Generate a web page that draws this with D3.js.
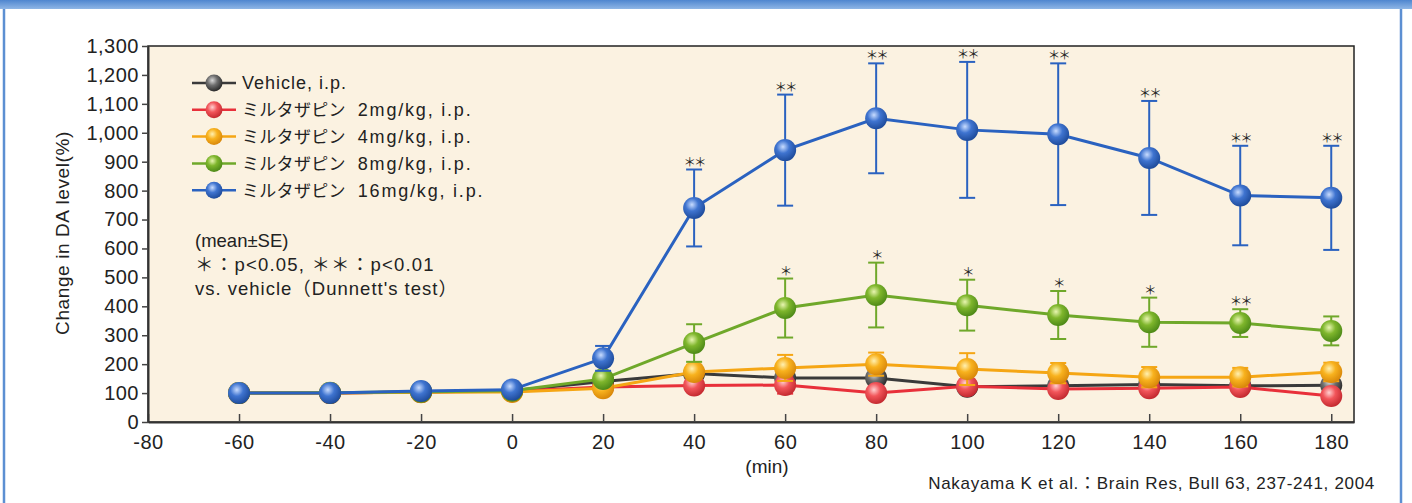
<!DOCTYPE html>
<html>
<head>
<meta charset="utf-8">
<script src="https://cdn.jsdelivr.net/npm/d3@7"></script>
<style>
  html, body { margin: 0; padding: 0; background: #fff; }
  svg { display: block; }
  text { font-family: "Liberation Sans", "Noto Sans CJK JP", sans-serif; fill: #222; }
</style>
</head>
<body>
<svg width="1412" height="503"></svg>
<script>
// 時間 (min)
const times = [-60, -40, -20, 0, 20, 40, 60, 80, 100, 120, 140, 160, 180];

// 平均値と SE
const vehicle   = [100, 100, 104, 108, 140, 168, 152, 152, 122, 125, 130, 125, 127];
const vehicleSE = [5, 5, 5, 5, 10, 15, 15, 15, 12, 12, 12, 12, 12];
const mirt2     = [100, 100, 104, 106, 121, 126, 128, 100, 124, 114, 117, 121, 90];
const mirt2SE   = [5, 5, 5, 5, 10, 20, 30, 15, 15, 15, 15, 15, 15];
const mirt4     = [100, 100, 103, 104, 117, 173, 187, 200, 183, 169, 155, 155, 173];
const mirt4SE   = [5, 5, 5, 5, 10, 25, 45, 40, 55, 35, 35, 32, 32];
const mirt8     = [100, 101, 105, 108, 149, 273, 394, 439, 404, 370, 345, 342, 315];
const mirt8SE   = [5, 5, 5, 6, 12, 65, 102, 112, 88, 83, 85, 48, 50];
const mirt16    = [100, 100, 107, 112, 220, 740, 940, 1050, 1010, 995, 913, 783, 775];
const mirt16SE  = [5, 5, 6, 8, 43, 133, 192, 190, 235, 245, 197, 172, 180];

// 有意差マーク
const sig8  = ["", "", "", "", "", "", "*", "*", "*", "*", "*", "**", ""];
const sig16 = ["", "", "", "", "", "**", "**", "**", "**", "**", "**", "**", "**"];

const legendLabels = ["Vehicle, i.p.", "ミルタザピン 2mg/kg, i.p.", "ミルタザピン 4mg/kg, i.p.",
                      "ミルタザピン 8mg/kg, i.p.", "ミルタザピン 16mg/kg, i.p."];
const xTicks = d3.range(-80, 181, 20);
const yTicks = d3.range(0, 1301, 100);

const series = [
  { id: "veh", mean: vehicle, se: vehicleSE, sig: null,  line: "#3a3a3a", base: "#6f6f6f", hi: "#d8d8d8", dark: "#2a2a2a" },
  { id: "m2",  mean: mirt2,   se: mirt2SE,   sig: null,  line: "#e8303a", base: "#f2555a", hi: "#ffd0d0", dark: "#c42a30" },
  { id: "m4",  mean: mirt4,   se: mirt4SE,   sig: null,  line: "#f5a614", base: "#f8b21e", hi: "#fff0b0", dark: "#d9880a" },
  { id: "m8",  mean: mirt8,   se: mirt8SE,   sig: sig8,  line: "#6fa82a", base: "#7fb62c", hi: "#e8f5b0", dark: "#4e8a18" },
  { id: "m16", mean: mirt16,  se: mirt16SE,  sig: sig16, line: "#2a62c0", base: "#3f74d0", hi: "#c8dcff", dark: "#1f4c9c" }
];

const svg = d3.select("svg");
const W = 1412, H = 503;
const plotL = 148, plotR = 1354, plotT = 46, plotB = 422;

// 外枠
svg.append("rect").attr("x", 4).attr("y", -4).attr("width", 1397).attr("height", H + 10)
  .attr("fill", "#fff").attr("stroke", "#5c8fd2").attr("stroke-width", 2.5);
const band = svg.append("defs").append("linearGradient").attr("id", "band")
  .attr("x1", 0).attr("y1", 0).attr("x2", 0).attr("y2", 1);
band.append("stop").attr("offset", "0%").attr("stop-color", "#4f86cf");
band.append("stop").attr("offset", "100%").attr("stop-color", "#8fb6e6");
svg.append("rect").attr("x", 0).attr("y", 0).attr("width", W).attr("height", 9).attr("fill", "url(#band)");

const x = d3.scaleLinear().domain([-80, 185]).range([plotL, plotR]);
const y = d3.scaleLinear().domain([0, 1300]).range([plotB, plotT]);

const defs = svg.append("defs");
series.forEach(s => {
  const g = defs.append("radialGradient").attr("id", "grad-" + s.id)
    .attr("cx", "40%").attr("cy", "35%").attr("r", "65%");
  g.append("stop").attr("offset", "0%").attr("stop-color", s.hi);
  g.append("stop").attr("offset", "45%").attr("stop-color", s.base);
  g.append("stop").attr("offset", "100%").attr("stop-color", s.dark);
});

// プロット領域
svg.append("rect").attr("x", plotL).attr("y", plotT).attr("width", plotR - plotL).attr("height", plotB - plotT)
  .attr("fill", "#fbf2e1").attr("stroke", "#222").attr("stroke-width", 1.5);

// 軸
const xAxis = svg.append("g").attr("transform", `translate(0,${plotB})`)
  .call(d3.axisBottom(x).tickValues(xTicks).tickSizeInner(-8).tickSizeOuter(0).tickPadding(13)
    .tickFormat(d => String(d)));
const yAxis = svg.append("g").attr("transform", `translate(${plotL},0)`)
  .call(d3.axisLeft(y).tickValues(yTicks).tickSizeInner(6).tickSizeOuter(0).tickPadding(3)
    .tickFormat(d3.format(",")));
[xAxis, yAxis].forEach(a => {
  a.select(".domain").attr("stroke", "#333").attr("stroke-width", 2);
  a.selectAll(".tick line").attr("stroke", "#444").attr("stroke-width", 1.5);
  a.selectAll(".tick text").attr("fill", "#222").style("font-size", "20px")
    .style("font-family", "Liberation Sans, sans-serif").style("letter-spacing", "0.5px");
});
xAxis.selectAll(".tick text").attr("dy", "0.71em");
yAxis.selectAll(".tick text").attr("dy", "0.32em");

// 系列
series.forEach(s => {
  const g = svg.append("g");
  const pts = times.map((t, i) => ({ t, v: s.mean[i], e: s.se[i], sig: s.sig ? s.sig[i] : "" }));
  const bars = pts.filter(p => p.t > 0);
  g.selectAll(".eb").data(bars).enter().append("line")
    .attr("x1", d => x(d.t)).attr("x2", d => x(d.t))
    .attr("y1", d => y(d.v - d.e)).attr("y2", d => y(d.v + d.e))
    .attr("stroke", s.line).attr("stroke-width", 2);
  g.selectAll(".cap").data(bars.flatMap(d => [d.v - d.e, d.v + d.e].map(v => ({ t: d.t, v }))))
    .enter().append("line")
    .attr("x1", d => x(d.t) - 8).attr("x2", d => x(d.t) + 8)
    .attr("y1", d => y(d.v)).attr("y2", d => y(d.v))
    .attr("stroke", s.line).attr("stroke-width", 2);
  g.append("path").datum(pts)
    .attr("d", d3.line().x(d => x(d.t)).y(d => y(d.v)))
    .attr("fill", "none").attr("stroke", s.line).attr("stroke-width", 3);
  g.selectAll("circle").data(pts).enter().append("circle")
    .attr("cx", d => x(d.t)).attr("cy", d => y(d.v)).attr("r", 11)
    .attr("fill", `url(#grad-${s.id})`);
  g.selectAll(".sig").data(pts.filter(p => p.sig)).enter().append("text")
    .attr("x", d => x(d.t)).attr("y", d => y(d.v + d.e) - 3)
    .attr("text-anchor", "middle").style("font-size", "12.5px").attr("fill", "#444")
    .style("font-family", "Noto Sans CJK JP, sans-serif").style("letter-spacing", "-2px")
    .text(d => d.sig.replace(/\*/g, "＊"));
});

// 凡例
const lg = svg.append("g").attr("transform", "translate(192,83)");
series.forEach((s, i) => {
  const row = lg.append("g").attr("transform", `translate(0,${i * 26.8})`);
  row.append("line").attr("x1", 0).attr("x2", 44).attr("stroke", s.line).attr("stroke-width", 2.5);
  row.append("circle").attr("cx", 22).attr("cy", 0).attr("r", 8.5).attr("fill", `url(#grad-${s.id})`);
  const label = legendLabels[i];
  const cut = label.indexOf(" ");
  const t = row.append("text").attr("x", 50).attr("dy", "0.36em").style("font-size", "18px");
  if (/^[\u30A0-\u30FF]/.test(label)) {
    t.append("tspan").style("font-size", "17px").style("letter-spacing", "0.3px").text(label.slice(0, cut));
    t.append("tspan").attr("dx", 12).style("letter-spacing", "1.8px").text(label.slice(cut + 1));
  } else {
    t.style("letter-spacing", "1px").text(label);
  }
});

// 注記
const notes = ["(mean±SE)", "＊：p<0.05, ＊＊：p<0.01", "vs. vehicle（Dunnett's test）"];
const noteSpacing = [0, 1.2, 1.0];
svg.append("g").selectAll("text").data(notes).enter().append("text")
  .attr("x", 195).attr("y", (d, i) => 240 + i * 24).attr("dy", "0.36em")
  .style("font-size", "18.5px").style("letter-spacing", (d, i) => noteSpacing[i] + "px").text(d => d);

// 軸タイトル
svg.append("text").attr("transform", "translate(62,233) rotate(-90)")
  .attr("text-anchor", "middle").attr("dy", "0.36em").style("font-size", "19px")
  .style("letter-spacing", "0.6px").text("Change in DA level(%)");
svg.append("text").attr("x", 767).attr("y", 466).attr("text-anchor", "middle").attr("dy", "0.36em")
  .style("font-size", "19px").text("(min)");

svg.append("text").attr("x", 1375).attr("y", 483).attr("text-anchor", "end").attr("dy", "0.36em")
  .style("font-size", "17px").style("letter-spacing", "0.7px")
  .text("Nakayama K et al.：Brain Res, Bull 63, 237-241, 2004");
</script>
</body>
</html>
